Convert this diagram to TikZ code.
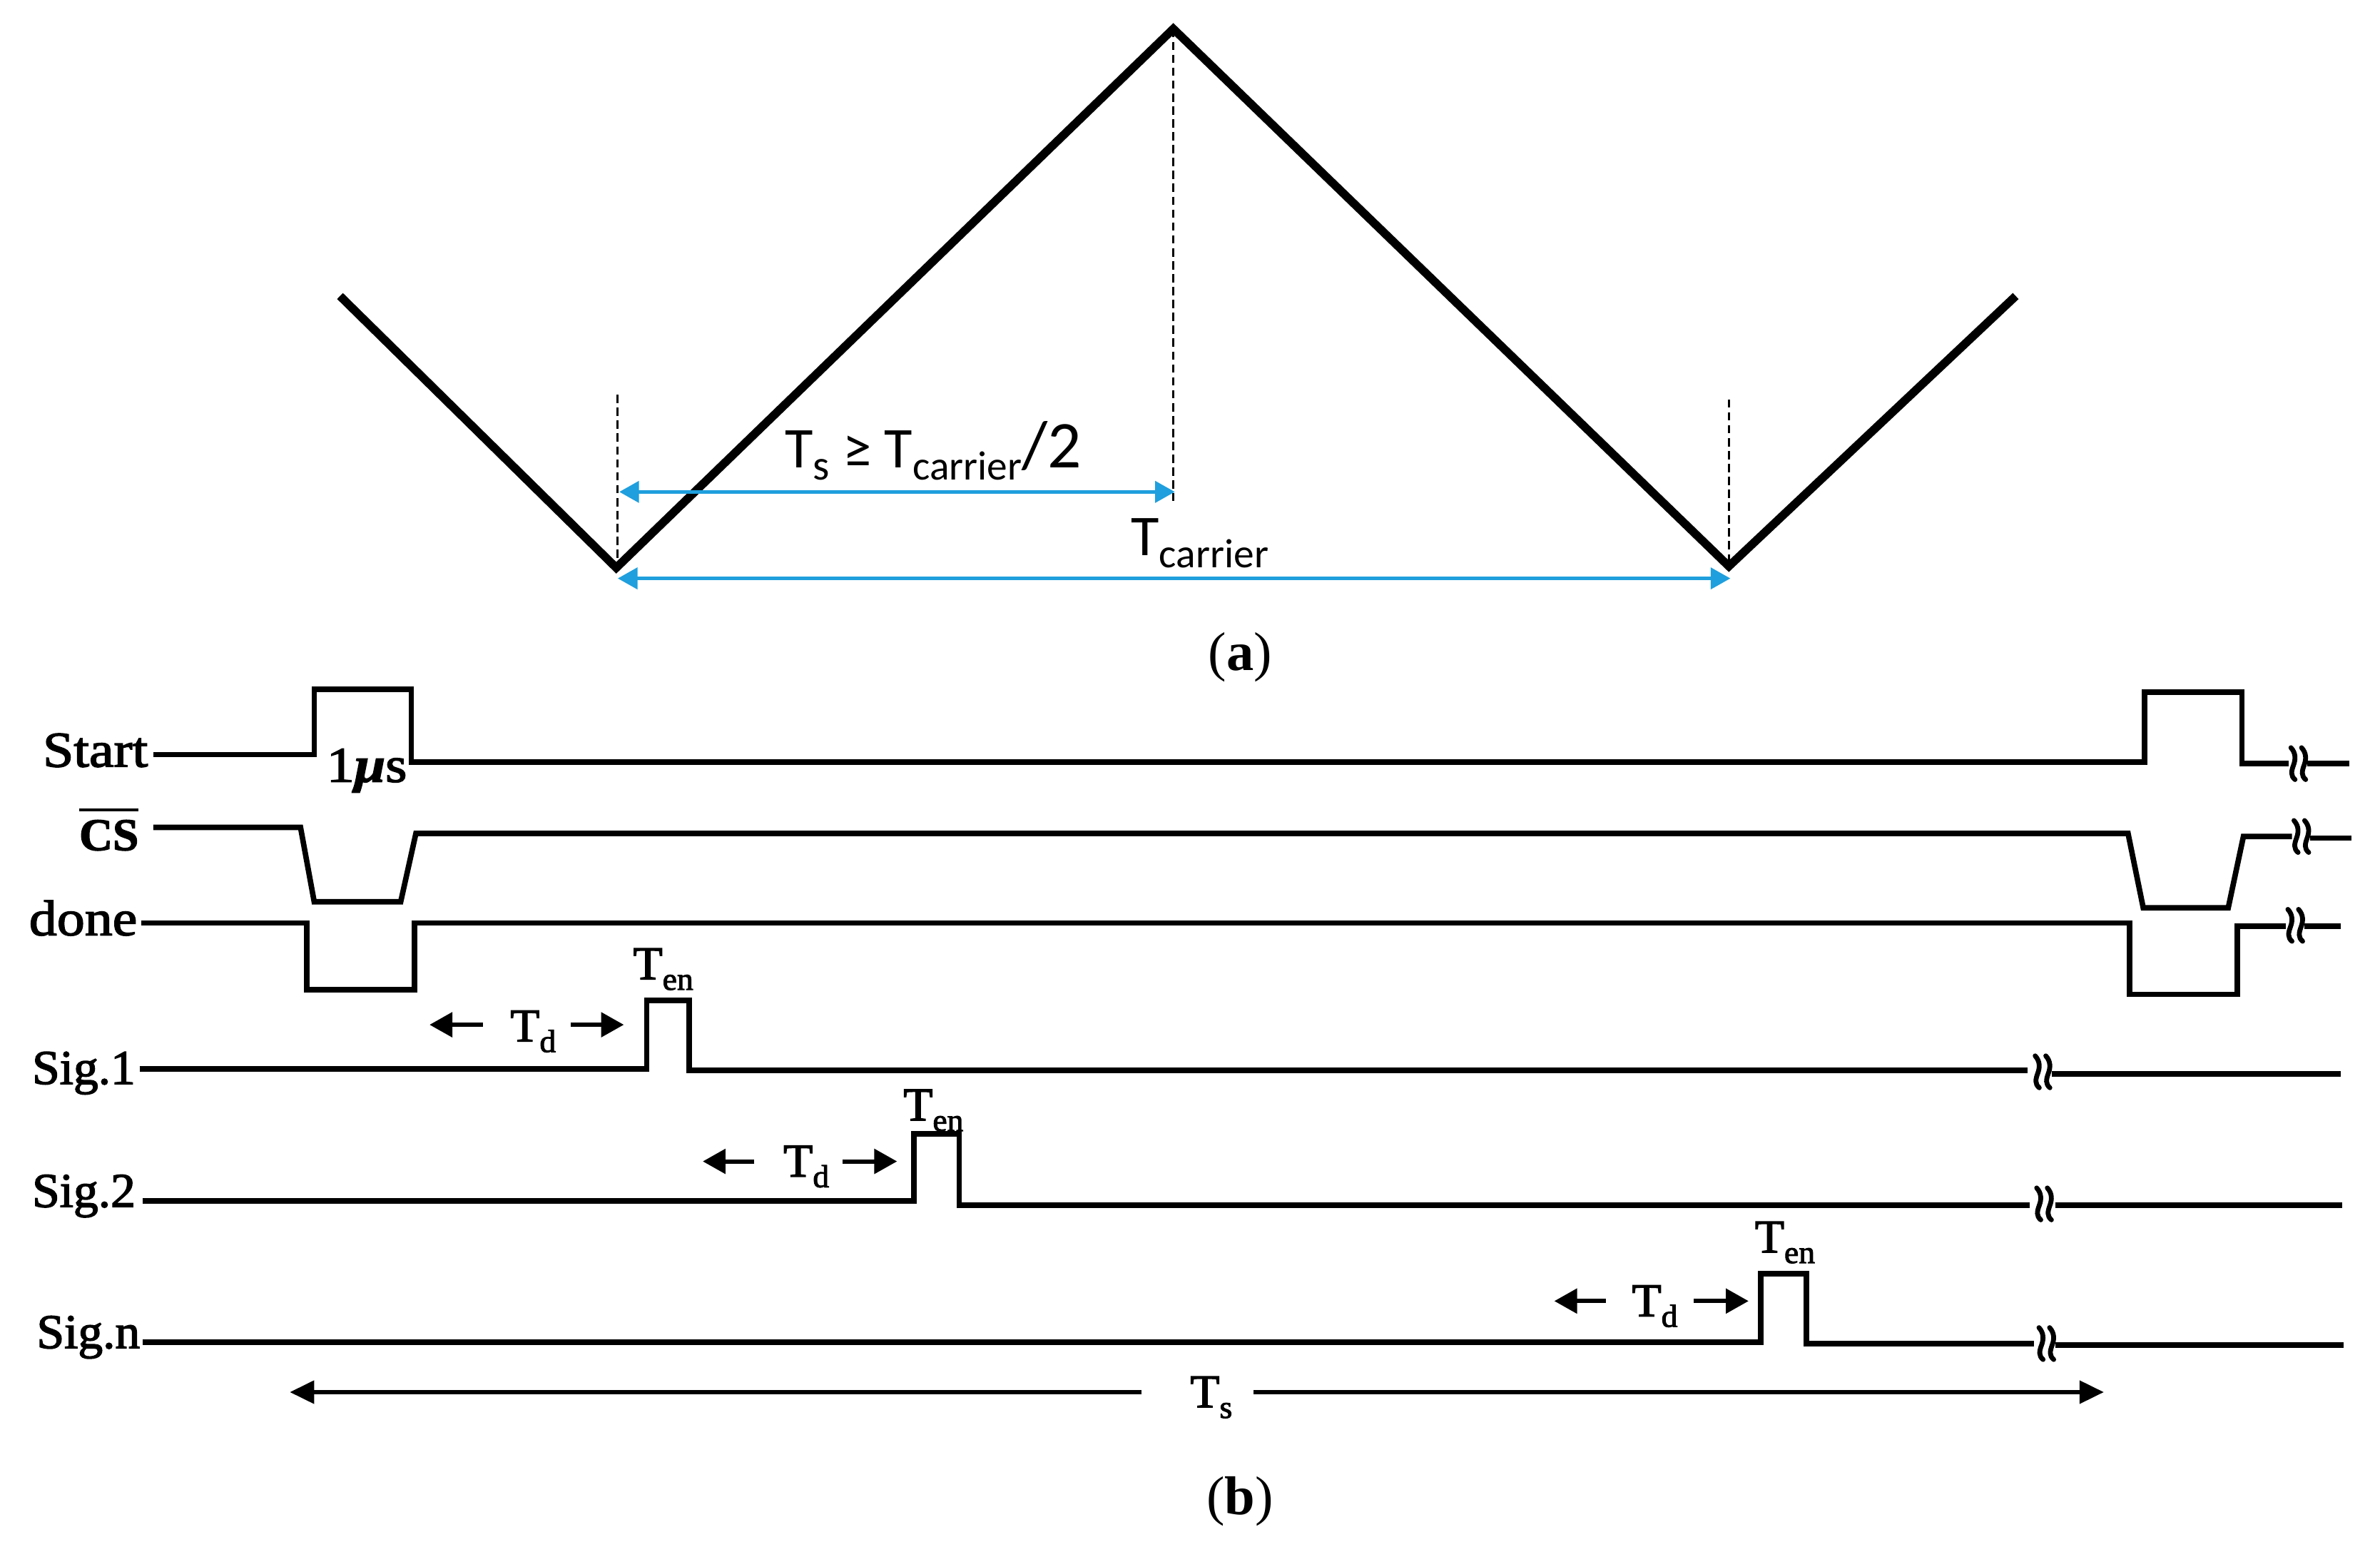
\documentclass[tikz,border=0pt]{standalone}
\usepackage{fontspec}
\setmainfont{Liberation Serif}
\newfontfamily\calfont{Carlito}
\newfontfamily\camfont{Liberation Serif}[FakeStretch=1.02,FakeBold=2.2]
\newfontfamily\camwide{Liberation Serif}[FakeStretch=1.11,FakeBold=2.2]
\usetikzlibrary{arrows.meta}
\definecolor{sky}{HTML}{1F9FDD}
\newcommand\lowtxt[3]{\raisebox{#1}{\fontsize{#2}{#2}\selectfont #3}}
\newcommand\Ten{T\lowtxt{-7pt}{21}{en}}
\newcommand\Td{T\lowtxt{-7pt}{21}{d}}
\newcommand\Ts{T\lowtxt{-7pt}{21}{s}}
\tikzset{
  wave/.style={line width=5.5pt,line join=miter,black},
  guide/.style={line width=1.4pt,dash pattern=on 5.5pt off 3pt,black},
  bluespan/.style={line width=2.2pt,sky,{Triangle[length=13pt,width=14pt]}-{Triangle[length=13pt,width=14pt]}},
  sig/.style={line width=3.6pt,line join=miter,black},
  dly/.style={line width=2.8pt,black,-{Triangle[length=15pt,width=16pt]}},
  tot/.style={line width=2.4pt,black,-{Triangle[length=16pt,width=15pt]}},
  calib/.style={font=\calfont\fontsize{38}{38}\selectfont,anchor=base west,inner sep=0pt},
  lab/.style={font=\camfont\fontsize{32}{32}\selectfont,anchor=base west,inner sep=0pt},
  labw/.style={font=\camwide\fontsize{33}{33}\selectfont,anchor=base west,inner sep=0pt},
  tlab/.style={font=\camfont\fontsize{31}{31}\selectfont,anchor=base west,inner sep=0pt},
  capt/.style={font=\fontsize{36}{36}\selectfont,anchor=center,inner sep=0pt},
  pics/brk/.style={code={
    \draw[line width=3.2pt,line cap=round,black] (-4.7,-10.5) .. controls (-1.5,-7) and (-1.5,-3) .. (-3,1) .. controls (-4.5,5) and (-5,8) .. (-2,10.5);
    \draw[line width=3.2pt,line cap=round,black] (2.3,-10.5) .. controls (5.5,-7) and (5.5,-3) .. (4,1) .. controls (2.5,5) and (2,8) .. (5,10.5);
  }}
}
\begin{document}
\begin{tikzpicture}[x=1pt,y=-1pt]
\useasboundingbox (0,0) rectangle (1568,1019);
% (a)
\coordinate (p0) at (224,195);\coordinate (p1) at (406,374);\coordinate (p2) at (773,19);
\coordinate (p3) at (1139,373);\coordinate (p4) at (1328,195);
\coordinate (q1) at (407,374);
\draw[guide] (407,260) -- (q1);
\draw[guide] (p2) -- (773,330);
\draw[guide] (1139,263) -- (p3);
\draw[wave] (p0) -- (p1) -- (p2) -- (p3) -- (p4);
\coordinate (a1) at (408,324);\coordinate (a2) at (774,324);
\coordinate (b1) at (407,381);\coordinate (b2) at (1140,381);
\draw[bluespan] (a1) -- (a2);
\draw[bluespan] (b1) -- (b2);
\node[calib] (tsform) at (517,308) {T\lowtxt{-8pt}{28}{s} ≥ T\lowtxt{-8pt}{27}{carrier}\fontsize{44}{44}\selectfont/2};
\node[calib] (tcar) at (745,366) {T\lowtxt{-8pt}{27}{carrier}};
\node[capt] (capa) at (817,433) {(\textbf{a})};
\node[capt] (capb) at (817,989) {(\textbf{b})};
% (b) labels
\node[labw] (lstart) at (28,505) {Start};
\node[lab,font=\camfont\bfseries\fontsize{30}{30}\selectfont] (lcs) at (52,560) {CS};
\draw[line width=1.8pt] (52,533.5) -- (91,533.5);
\node[labw] (ldone) at (19,616) {done};
\node[lab] (lsig1) at (21,714) {Sig.1};
\node[lab] (lsig2) at (21,795) {Sig.2};
\node[lab] (lsign) at (24,888) {Sig.n};
\node[labw] (lus) at (215,515) {1\textit{\textbf{μ}}s};
% waveforms
\draw[sig] (101,497) -- (207,497) -- (207,454) -- (271,454) -- (271,502) -- (1413,502) -- (1413,456) -- (1477,456) -- (1477,503) -- (1508,503);
\draw[sig] (1520,503) -- (1548,503);
\draw[sig] (101,545) -- (198,545) -- (207,594) -- (264,594) -- (274,549) -- (1402,549) -- (1412,598) -- (1468,598) -- (1478,551) -- (1510,551);
\draw[sig] (1522,552) -- (1549,552);
\draw[sig] (93,608) -- (202,608) -- (202,652) -- (273,652) -- (273,608) -- (1403,608) -- (1403,655) -- (1474,655) -- (1474,610) -- (1506,610);
\draw[sig] (1518,610) -- (1542,610);
\draw[sig] (92,704) -- (426,704) -- (426,659) -- (454,659) -- (454,705) -- (1336,705);
\draw[sig] (1352,707.5) -- (1542,707.5);
\draw[sig] (94,791) -- (602,791) -- (602,747) -- (632,747) -- (632,794) -- (1337,794);
\draw[sig] (1354,794) -- (1543,794);
\draw[sig] (94,884) -- (1160,884) -- (1160,839) -- (1190,839) -- (1190,885) -- (1340,885);
\draw[sig] (1354,886) -- (1544,886);
\pic at (1514,503) {brk};
\pic at (1516,551) {brk};
\pic at (1512,609.5) {brk};
\pic at (1345.5,706) {brk};
\pic at (1346.5,793) {brk};
\pic at (1348,885) {brk};
% T_en
\node[tlab] (ten1) at (417,645) {\Ten};
\node[tlab] (ten2) at (595,738) {\Ten};
\node[tlab] (ten3) at (1156,825) {\Ten};
% T_d
\node[tlab] (td1) at (336,686) {\Td};
\node[tlab] (td2) at (516,775) {\Td};
\node[tlab] (td3) at (1075,867) {\Td};
\coordinate (d1l) at (283,675);\coordinate (d1r) at (411,675);
\coordinate (d2l) at (463,765);\coordinate (d2r) at (591,765);
\coordinate (d3l) at (1024,857);\coordinate (d3r) at (1152,857);
\draw[dly] (318,675) -- (d1l);
\draw[dly] (376,675) -- (d1r);
\draw[dly] (497,765) -- (d2l);
\draw[dly] (555,765) -- (d2r);
\draw[dly] (1058,857) -- (d3l);
\draw[dly] (1116,857) -- (d3r);
% T_s
\node[tlab] (ts) at (784,927) {\Ts};
\coordinate (tl) at (191,917);\coordinate (tr) at (1386,917);
\draw[tot] (752,917) -- (tl);
\draw[tot] (826,917) -- (tr);
\end{tikzpicture}
\end{document}
